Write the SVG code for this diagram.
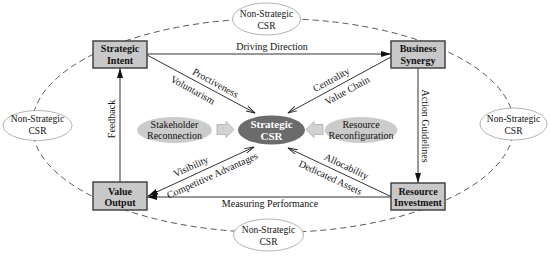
<svg xmlns="http://www.w3.org/2000/svg" width="550" height="256" viewBox="0 0 550 256" font-family="'Liberation Serif', 'DejaVu Serif', serif">
<defs>
<style>
text{font-family:'Liberation Serif','DejaVu Serif',serif;fill:#111;}
.t{font-size:10px;}
.ns{font-size:9.5px;text-anchor:middle;}
.b{font-size:10px;font-weight:bold;text-anchor:middle;}
.box{fill:#c8c8c8;stroke:#444;stroke-width:1.5;}
.nse{fill:#fff;stroke:#aaa;stroke-width:0.9;}
.oval{fill:#cbcbcb;stroke:none;}
.blk{fill:#d2d2d2;stroke:#a8a8a8;stroke-width:0.8;}
.ln{fill:none;stroke:#333;stroke-width:1;}
</style>
<marker id="ah" viewBox="0 0 10 6" refX="10" refY="3" markerWidth="10" markerHeight="6" markerUnits="userSpaceOnUse" orient="auto-start-reverse"><path d="M0,0 L10,3 L0,6 Z" fill="#111"/></marker>
<marker id="ao" viewBox="0 0 10 6" refX="9.5" refY="3" markerWidth="10" markerHeight="6" markerUnits="userSpaceOnUse" orient="auto"><path d="M0,0.4 L9.5,3 L0,5.6" fill="none" stroke="#222" stroke-width="0.9"/></marker>
</defs>
<rect width="550" height="256" fill="#fff"/>
<g id="boundary">
<ellipse cx="273" cy="125.5" rx="241" ry="107" fill="none" stroke="#555" stroke-width="1" stroke-dasharray="6,4"/>
</g>
<g id="connectors">
<path class="ln" d="M147,54 H391" marker-end="url(#ah)"/>
<text class="t" x="272" y="50" text-anchor="middle">Driving Direction</text>
<path class="ln" d="M418,68 V183" marker-end="url(#ah)"/>
<text class="t" transform="translate(421.5,126) rotate(90)" text-anchor="middle">Action Guidelines</text>
<path class="ln" d="M391,197 H147" marker-end="url(#ah)"/>
<text class="t" x="270" y="207" text-anchor="middle">Measuring Performance</text>
<path class="ln" d="M120,182 V68" marker-end="url(#ah)"/>
<text class="t" transform="translate(115,119) rotate(-90)" text-anchor="middle">Feedback</text>
<path class="ln" d="M147,55 L255,113" marker-end="url(#ao)"/>
<text class="t" transform="translate(211.5,90.3) rotate(28.7)" x="0" y="-5" text-anchor="middle">Proctiveness</text>
<text class="t" transform="translate(197,82.4) rotate(28.7)" x="0" y="12" text-anchor="middle">Voluntarism</text>
<path class="ln" d="M391,57 L288,113" marker-end="url(#ao)"/>
<text class="t" transform="translate(335.3,87) rotate(-28.8)" x="0" y="-5" text-anchor="middle">Centrality</text>
<text class="t" transform="translate(343,82.8) rotate(-28.8)" x="0" y="12" text-anchor="middle">Value Chain</text>
<path class="ln" d="M148,196 L254,147" marker-start="url(#ah)" marker-end="url(#ao)"/>
<text class="t" transform="translate(194.2,174.1) rotate(-24.4)" x="0" y="-5" text-anchor="middle">Visibility</text>
<text class="t" transform="translate(208.7,167.5) rotate(-24.4)" x="0" y="12" text-anchor="middle">Competitive Advantages</text>
<path class="ln" d="M392,197 L288,148" marker-end="url(#ao)"/>
<text class="t" transform="translate(342.9,173.9) rotate(25.2)" x="0" y="-5" text-anchor="middle">Allocability</text>
<text class="t" transform="translate(334.2,169.7) rotate(25.2)" x="0" y="12" text-anchor="middle">Dedicated Assets</text>
<polygon class="blk" points="217,124.5 226,124.5 226,121.5 234,129.5 226,137.5 226,134.5 217,134.5"/>
<polygon class="blk" points="323,124.5 314,124.5 314,121.5 306,129.5 314,137.5 314,134.5 323,134.5"/>
</g>
<g id="strategic-intent">
<rect class="box" x="93" y="41" width="54" height="27"/>
<text class="b" x="120" y="52">Strategic</text>
<text class="b" x="120" y="64">Intent</text>
</g>
<g id="business-synergy">
<rect class="box" x="391" y="41" width="54" height="27"/>
<text class="b" x="418" y="52">Business</text>
<text class="b" x="418" y="64">Synergy</text>
</g>
<g id="value-output">
<rect class="box" x="93" y="182" width="54" height="28"/>
<text class="b" x="120" y="195">Value</text>
<text class="b" x="120" y="206">Output</text>
</g>
<g id="resource-investment">
<rect class="box" x="391" y="183" width="54" height="27"/>
<text class="b" x="418" y="195">Resource</text>
<text class="b" x="418" y="206">Investment</text>
</g>
<g id="strategic-csr">
<ellipse cx="271.5" cy="130" rx="33.5" ry="14.5" fill="#6b6b6b"/>
<text x="271.5" y="128" style="font-size:11px;font-weight:bold;fill:#fff;text-anchor:middle">Strategic</text>
<text x="271.5" y="140" style="font-size:11px;font-weight:bold;fill:#fff;text-anchor:middle">CSR</text>
</g>
<g id="stakeholder-reconnection">
<ellipse class="oval" cx="174.5" cy="130" rx="37.5" ry="13"/>
<text class="t" x="174.5" y="128" text-anchor="middle">Stakeholder</text>
<text class="t" x="174.5" y="139" text-anchor="middle">Reconnection</text>
</g>
<g id="resource-reconfiguration">
<ellipse class="oval" cx="361" cy="130" rx="36.5" ry="13"/>
<text class="t" x="361" y="128" text-anchor="middle">Resource</text>
<text class="t" x="361" y="139" text-anchor="middle">Reconfiguration</text>
</g>
<g id="nscsr-top">
<ellipse class="nse" cx="266.5" cy="19" rx="34" ry="16"/>
<text class="ns" x="266.5" y="17">Non-Strategic</text>
<text class="ns" x="266.5" y="29">CSR</text>
</g>
<g id="nscsr-left">
<ellipse class="nse" cx="37.5" cy="125.5" rx="34.5" ry="15"/>
<text class="ns" x="37.5" y="122">Non-Strategic</text>
<text class="ns" x="37.5" y="134">CSR</text>
</g>
<g id="nscsr-right">
<ellipse class="nse" cx="513.5" cy="124" rx="33.5" ry="16"/>
<text class="ns" x="513.5" y="122">Non-Strategic</text>
<text class="ns" x="513.5" y="134">CSR</text>
</g>
<g id="nscsr-bottom">
<ellipse class="nse" cx="268.5" cy="235" rx="35" ry="16"/>
<text class="ns" x="268.5" y="233">Non-Strategic</text>
<text class="ns" x="268.5" y="245">CSR</text>
</g>
</svg>
